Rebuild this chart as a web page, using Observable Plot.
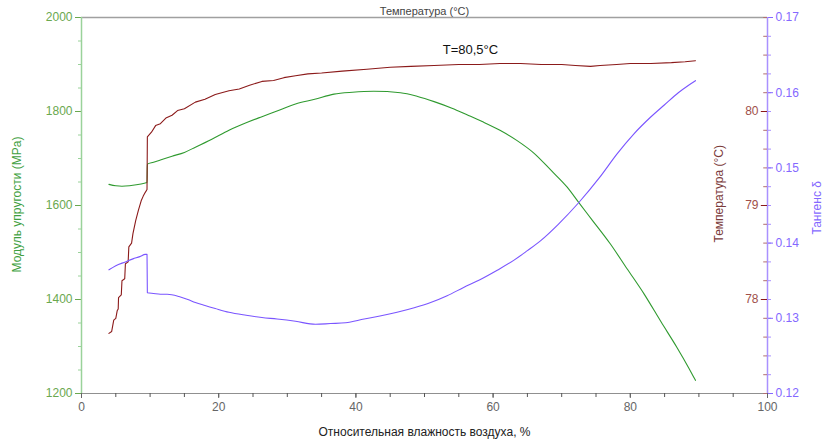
<!DOCTYPE html>
<html>
<head>
<meta charset="utf-8">
<script src="https://cdn.jsdelivr.net/npm/d3@7"></script>
<script src="https://cdn.jsdelivr.net/npm/@observablehq/plot@0.6"></script>
<style>
  html, body { margin: 0; padding: 0; background: white; overflow: hidden; }
  #chart { width: 827px; height: 441px; }
</style>
</head>
<body>
<div id="chart"></div>
<script>
// ---- Data ----
const humidityMod = [4.0, 5.0, 5.9, 7.0, 8.0, 9.3, 9.55, 9.6, 10.5, 11.5, 13.2, 15, 16.6, 19, 21.5, 24, 26.3, 28.5, 31.2, 34, 36.8, 39.5, 42.6, 46.5, 49, 51.4, 54, 56.2, 58.5, 61, 63.5, 65.9, 68.5, 70.8, 72.5, 74.5, 77.1, 79.5, 82, 84.5, 86.8, 88.5, 89.5];
const modulus     = [1645, 1642, 1641, 1642, 1644, 1648, 1649, 1688, 1692, 1697, 1705, 1713, 1724, 1741, 1760, 1776, 1789, 1801, 1816, 1826, 1837, 1841, 1843, 1840, 1832, 1821, 1807, 1793, 1778, 1760, 1738, 1712, 1674, 1639, 1606, 1568, 1518, 1466, 1412, 1352, 1298, 1255, 1228];

const humidityTemp = [4.0, 4.4, 4.7, 5.0, 5.2, 5.35, 5.4, 5.8, 5.9, 6.3, 6.4, 6.8, 6.9, 7.3, 7.5, 7.9, 8.3, 8.7, 9.0, 9.3, 9.55, 9.6, 10.2, 10.8, 11.5, 12.3, 13.2, 14, 15, 16.6, 18, 19.5, 21.5, 23, 24.5, 26.3, 28, 29.5, 31.2, 33, 35, 38, 41.6, 45, 48, 51.4, 55, 58, 61, 64, 67, 70, 72, 74.2, 75.6, 78, 80, 83, 86, 88, 89.5];
const temperature  = [77.64, 77.66, 77.78, 77.80, 77.88, 77.90, 78.02, 78.05, 78.20, 78.22, 78.38, 78.40, 78.56, 78.60, 78.70, 78.84, 78.95, 79.05, 79.10, 79.14, 79.17, 79.73, 79.78, 79.85, 79.87, 79.93, 79.96, 80.01, 80.03, 80.10, 80.13, 80.18, 80.22, 80.24, 80.28, 80.32, 80.33, 80.36, 80.38, 80.40, 80.41, 80.43, 80.45, 80.47, 80.48, 80.49, 80.50, 80.50, 80.51, 80.51, 80.50, 80.50, 80.49, 80.48, 80.49, 80.50, 80.51, 80.51, 80.52, 80.53, 80.54];

const humidityTan = [4.0, 5.0, 6.4, 7.5, 8.5, 9.3, 9.55, 9.6, 10.5, 11.5, 12.5, 14.2, 15.5, 16.6, 18, 19.5, 21.5, 24, 26.3, 28.5, 31.2, 34.1, 36.3, 38.5, 41.2, 43.5, 46, 48.5, 50.9, 53.3, 55.7, 58, 60.6, 63, 65, 66.9, 69.5, 72.5, 75.5, 78.1, 80.5, 82.9, 85, 87, 88.5, 89.5];
const tangent     = [0.13645, 0.1370, 0.1375, 0.1379, 0.1382, 0.1385, 0.1385, 0.1334, 0.1333, 0.1332, 0.1332, 0.1329, 0.1325, 0.1321, 0.1317, 0.1313, 0.1308, 0.1304, 0.1301, 0.1299, 0.1296, 0.1292, 0.1293, 0.1294, 0.1299, 0.1303, 0.1308, 0.1314, 0.1321, 0.1330, 0.1341, 0.1351, 0.1364, 0.1377, 0.1390, 0.1403, 0.1425, 0.1454, 0.1487, 0.1519, 0.1545, 0.1567, 0.1584, 0.1600, 0.1610, 0.1616];

const xTicksMajor = [0, 20, 40, 60, 80, 100];
const xTicksMinor = d3.range(0, 101, 5);
const modTicksMajor = [1200, 1400, 1600, 1800, 2000];
const modTicksMinor = d3.range(1200, 2001, 50);
const tempTicksMajor = [78, 79, 80];
const tempTicksMinor = d3.range(77, 81.001, 0.2).map(v => +v.toFixed(1));
const tanTicksMajor = [0.12, 0.13, 0.14, 0.15, 0.16, 0.17];
const tanTicksMinor = d3.range(0.12, 0.17001, 0.0025).map(v => +v.toFixed(4));

const annotation = ["T=80,5°C"];
const titles = {
  x: "Относительная влажность воздуха, %",
  left: "Модуль упругости (MPa)",
  temp: "Температура (°C)",
  tan: "Тангенс δ"
};

// ---- secondary axes mapped onto the primary (MPa) y scale ----
const tY = t => 1200 + (t - 77) / 4 * 800;
const tInv = y => 77 + (y - 1200) / 800 * 4;
const kY = k => 1200 + (k - 0.12) / 0.05 * 800;
const kInv = y => 0.12 + (y - 1200) / 800 * 0.05;

const modData = humidityMod.map((x, i) => ({x, y: modulus[i]}));
const tempData = humidityTemp.map((x, i) => ({x, y: tY(temperature[i])}));
const tanData = humidityTan.map((x, i) => ({x, y: kY(tangent[i])}));

const green = "#2f9a2f", greenLabel = "#6aa84f", greenAxis = "#9ad29a";
const red = "#8b1a1a", redLabel = "#a0504a";
const purple = "#7a55ff", purpleLabel = "#8468ff", purpleAxis = "#a991ff";

const chart = Plot.plot({
  width: 827,
  height: 441,
  marginTop: 17,
  marginBottom: 48,
  marginLeft: 81,
  marginRight: 60,
  style: {fontFamily: "Arial, 'Liberation Sans', sans-serif", fontSize: "12px", background: "white", overflow: "visible"},
  x: {domain: [0, 100]},
  y: {domain: [1200, 2000]},
  marks: [
    // frame lines
    Plot.ruleY([2000], {stroke: "#a0a0a0", strokeWidth: 1.5}),
    Plot.ruleY([1200], {stroke: "#909090"}),
    // x axis
    Plot.axisX(xTicksMinor, {tickSize: 4, tickFormat: () => "", color: "#555", label: null}),
    Plot.axisX(xTicksMajor, {tickSize: 5, tickPadding: 4, color: "#666", label: null, fontSize: 12, tickFormat: d => String(d)}),
    Plot.text([titles.x], {frameAnchor: "bottom", dy: 42, fill: "#222", fontSize: 12}),
    // left axis
    Plot.axisY(modTicksMinor, {anchor: "left", tickSize: 3, tickFormat: () => "", color: greenAxis, label: null}),
    Plot.axisY(modTicksMajor, {anchor: "left", tickSize: 6, tickPadding: 3, color: greenLabel, label: null, fontSize: 12, tickFormat: d => String(d)}),
    Plot.ruleX([0], {stroke: greenAxis, strokeWidth: 1.5}),
    Plot.text([titles.left], {x: 0, y: 1602, dx: -64, rotate: -90, fill: "#3f9f3f", fontSize: 12}),
    // right (tangent) axis
    Plot.axisY(tanTicksMinor.map(kY), {anchor: "right", tickSize: 3, tickFormat: () => "", color: purpleAxis, label: null}),
    Plot.axisY(tanTicksMajor.map(kY), {anchor: "right", tickSize: 5, tickPadding: 3, color: purpleLabel, label: null, fontSize: 12,
      tickFormat: d => kInv(d).toFixed(2)}),
    Plot.ruleX([100], {stroke: purpleAxis, strokeWidth: 1.5}),
    Plot.text([titles.tan], {x: 100, y: 1595, dx: 50, rotate: -90, fill: purpleLabel, fontSize: 12}),
    // temperature axis (inside, on the same line)
    Plot.ruleY(tempTicksMinor.map(tY), {y: d => d, x1: 99.45, x2: 100, stroke: "#b07070"}),
    Plot.ruleY(tempTicksMajor.map(tY), {y: d => d, x1: 99.1, x2: 100, stroke: red}),
    Plot.text(tempTicksMajor.map(tY), {x: 100, y: d => d, text: d => String(Math.round(tInv(d))), dx: -9, textAnchor: "end", fill: redLabel, fontSize: 12}),
    Plot.text([titles.temp], {x: 100, y: 1625, dx: -48, rotate: -90, fill: "#7a3a3a", fontSize: 12}),
    // title at the very top (cut in the reference)
    Plot.text([titles.temp], {frameAnchor: "top", dy: -10, fill: "#444", fontSize: 11}),
    // curves
    Plot.line(modData, {x: "x", y: "y", stroke: green, strokeWidth: 1.1, curve: "monotone-x"}),
    Plot.line(tempData, {x: "x", y: "y", stroke: red, strokeWidth: 1.1}),
    Plot.line(tanData, {x: "x", y: "y", stroke: purple, strokeWidth: 1.1, curve: "monotone-x"}),
    // annotation
    Plot.text(annotation, {x: 56.7, y: 1932, fill: "#111", fontSize: 13})
  ]
});
document.getElementById("chart").appendChild(chart);
</script>
</body>
</html>
